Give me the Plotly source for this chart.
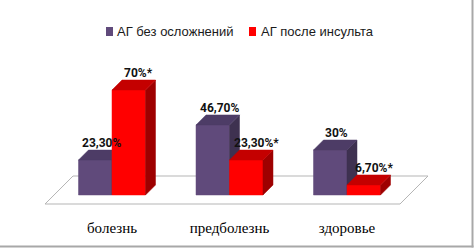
import plotly.graph_objects as go

# ---------------- data ----------------
categories = ["болезнь", "предболезнь", "здоровье"]
series_names = ["АГ без осложнений", "АГ после инсульта"]
values_no_compl = [23.3, 46.7, 30.0]
values_stroke = [70.0, 23.3, 6.7]
labels_no_compl = ["23,30%", "46,70%", "30%"]
labels_stroke = ["70%*", "23,30%*", "6,70%*"]

# ---------------- geometry / style ----------------
W, H = 475, 248
MB = 31                      # bottom margin (for category labels)
PH = H - MB                  # plot height in px
PX_PER_CAT = 117.5
PX_PER_PCT = 1.5
X0 = -112 / PX_PER_CAT
X1 = X0 + W / PX_PER_CAT
Y1 = 195 / PX_PER_PCT
Y0 = Y1 - PH / PX_PER_PCT

BAR_W = 0.285
DX = 10 / PX_PER_CAT         # 3D depth, x
DY = 10 / PX_PER_PCT         # 3D depth, y

colors = [
    {"front": "#604A7B", "top": "#4D3C66", "side": "#3E3150"},
    {"front": "#FF0000", "top": "#C40000", "side": "#9E0000"},
]
offsets = [-BAR_W, 0.0]
label_dx = [0.057, 0.083]

LABEL_FONT = dict(family="Roboto, Liberation Sans", size=12, color="#111111")


def px2paper_x(px):
    return px / W


def px2paper_y(py):
    return (PH - py) / PH


fig = go.Figure()


def poly(xs, ys, color):
    fig.add_trace(go.Scatter(
        x=xs + [xs[0]], y=ys + [ys[0]], mode="lines", fill="toself",
        fillcolor=color, line=dict(color=color, width=0.5),
        hoverinfo="skip", showlegend=False))


all_values = [values_no_compl, values_stroke]
all_labels = [labels_no_compl, labels_stroke]

for s, vals in enumerate(all_values):
    c = colors[s]
    for i, v in enumerate(vals):
        xl = i + offsets[s]
        xr = xl + BAR_W
        # front face
        poly([xl, xr, xr, xl], [0, 0, v, v], c["front"])
        # side face
        poly([xr, xr + DX, xr + DX, xr], [0, DY, v + DY, v], c["side"])
        # top face
        poly([xl, xr, xr + DX, xl + DX], [v, v, v + DY, v + DY], c["top"])

# data labels
for s, vals in enumerate(all_values):
    for i, v in enumerate(vals):
        xc = i + offsets[s] + BAR_W / 2 + label_dx[s]
        fig.add_annotation(x=xc, y=v + DY, xref="x", yref="y",
                           text="<b>" + all_labels[s][i] + "</b>",
                           showarrow=False, xanchor="center", yanchor="bottom",
                           yshift=-2, font=LABEL_FONT)

# floor (3D base plane)
n = len(categories)
fl_front_l, fl_front_r = -0.57, (n - 1) + 0.451
fl_dx, fl_dy = 28 / PX_PER_CAT, 28 / PX_PER_PCT
fl_y = -6
fig.add_shape(type="path", xref="x", yref="y", layer="below",
              path=(f"M {fl_front_l} {fl_y} L {fl_front_r} {fl_y} "
                    f"L {fl_front_r + fl_dx} {fl_y + fl_dy} "
                    f"L {fl_front_l + fl_dx} {fl_y + fl_dy} Z"),
              line=dict(color="#B5B5B5", width=1), fillcolor="white")

# legend (manual, to match compact layout)
legend_items = [(106, 117), (249, 261)]
for s, (mx, tx) in enumerate(legend_items):
    fig.add_shape(type="rect", xref="paper", yref="paper",
                  x0=px2paper_x(mx), x1=px2paper_x(mx + 7),
                  y0=px2paper_y(36), y1=px2paper_y(27),
                  line=dict(width=0), fillcolor=colors[s]["front"])
    fig.add_annotation(x=px2paper_x(tx - 2), y=px2paper_y(31.5),
                       xref="paper", yref="paper", text=series_names[s],
                       showarrow=False, xanchor="left", yanchor="middle",
                       font=dict(family="Liberation Sans", size=13, color="#1a1a1a"))

# outer frame lines (right and bottom)
fig.add_shape(type="line", xref="paper", yref="paper",
              x0=px2paper_x(472.5), x1=px2paper_x(472.5),
              y0=px2paper_y(0), y1=px2paper_y(247.5),
              line=dict(color="#A8A8A8", width=2))
fig.add_shape(type="line", xref="paper", yref="paper",
              x0=px2paper_x(0), x1=px2paper_x(473.5),
              y0=px2paper_y(246.5), y1=px2paper_y(246.5),
              line=dict(color="#A8A8A8", width=2))

fig.update_layout(
    width=W, height=H, autosize=False,
    margin=dict(l=0, r=0, t=0, b=MB, pad=0),
    paper_bgcolor="white", plot_bgcolor="white",
    showlegend=False,
    xaxis=dict(range=[X0, X1], showgrid=False, zeroline=False, showline=False,
               tickmode="array", tickvals=list(range(n)), ticktext=categories,
               ticks="", tickfont=dict(family="Liberation Serif", size=15, color="black"),
               fixedrange=True),
    yaxis=dict(range=[Y0, Y1], showgrid=False, zeroline=False, showline=False,
               showticklabels=False, ticks="", fixedrange=True),
)

fig.write_html(
    "out.html",
    config={"displayModeBar": False},
    post_script="document.body.style.margin='0px';document.body.style.overflow='hidden';",
)
